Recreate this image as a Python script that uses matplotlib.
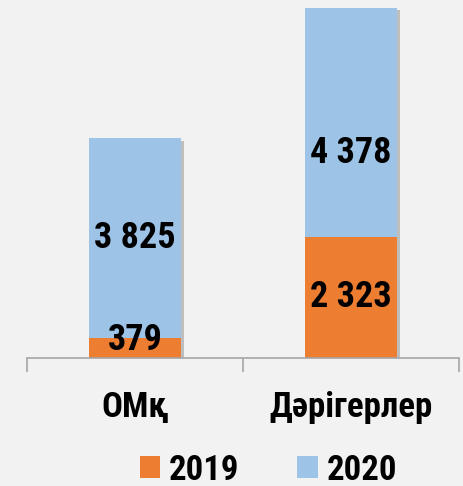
import matplotlib
matplotlib.use('Agg')
import matplotlib.pyplot as plt
from matplotlib import font_manager
import matplotlib.patheffects as pe

categories = ['ОМқ', 'Дәрігерлер']
series_names = ['2019', '2020']
values_2019 = [379, 2323]
values_2020 = [3825, 4378]
labels_2019 = ['379', '2 323']
labels_2020 = ['3 825', '4 378']

# pick a condensed face if one is installed (original uses Arial Narrow bold)
names = {f.name for f in font_manager.fontManager.ttflist}
cands = ['Roboto Condensed', 'Liberation Sans Narrow', 'PT Sans Narrow',
         'Fira Sans Condensed', 'Noto Sans Condensed', 'Archivo Narrow']
fam = [c for c in cands if c in names][:1] + ['DejaVu Sans']
plt.rcParams['font.family'] = fam
plt.rcParams['font.weight'] = 'bold'

bg = '#f2f2f2'
c2019 = '#ed7d31'
c2020 = '#9dc3e6'

fig = plt.figure(figsize=(4.64, 4.86), dpi=100, facecolor=bg)
ax = fig.add_axes([27 / 464, 1 - 358 / 486, 432 / 464, 350 / 486])
ax.set_facecolor(bg)

x = range(len(categories))
width = 0.43
totals = [a + b for a, b in zip(values_2019, values_2020)]
# soft shadow behind each whole stack
sh = ax.bar(x, totals, width, color=c2020, zorder=1)
for r in sh:
    r.set_path_effects([pe.SimplePatchShadow(offset=(2, -1.5), shadow_rgbFace='#7f7f7f', alpha=0.45), pe.Normal()])
b1 = ax.bar(x, values_2019, width, color=c2019, label=series_names[0], zorder=2)
b2 = ax.bar(x, values_2020, width, bottom=values_2019, color=c2020, label=series_names[1], zorder=2)

# label nudges (points) to match the original placement
off_2019 = [6, 0]
off_2020 = [0, -22]
for i in x:
    ax.annotate(labels_2019[i], (i, values_2019[i] / 2), xytext=(0, off_2019[i]),
                textcoords='offset points', ha='center', va='center',
                fontsize=26, fontweight='bold', zorder=3)
    ax.annotate(labels_2020[i], (i, values_2019[i] + values_2020[i] / 2), xytext=(0, off_2020[i]),
                textcoords='offset points', ha='center', va='center',
                fontsize=26, fontweight='bold', zorder=3)

ax.set_xlim(-0.5, 1.5)
ax.set_ylim(0, totals[1])
for s in ['top', 'right', 'left']:
    ax.spines[s].set_visible(False)
ax.spines['bottom'].set_color('#a6a6a6')
ax.spines['bottom'].set_linewidth(1.2)
ax.set_yticks([])
ax.set_xticks([-0.5, 0.5, 1.5])
ax.set_xticklabels([])
ax.tick_params(axis='x', length=10, color='#a6a6a6', width=1.2)
for i in x:
    ax.text(i, -0.14, categories[i], transform=ax.get_xaxis_transform(),
            ha='center', va='center', fontsize=25, fontweight='bold')

fig.legend(handles=[b1, b2], loc='center', bbox_to_anchor=(0.578, 1 - 470 / 486),
           ncol=2, frameon=False, prop={'weight': 'bold', 'size': 25},
           handlelength=0.6, handleheight=0.6, handletextpad=0.25, columnspacing=1.65)

fig.savefig('out.png', dpi=100, facecolor=bg)
